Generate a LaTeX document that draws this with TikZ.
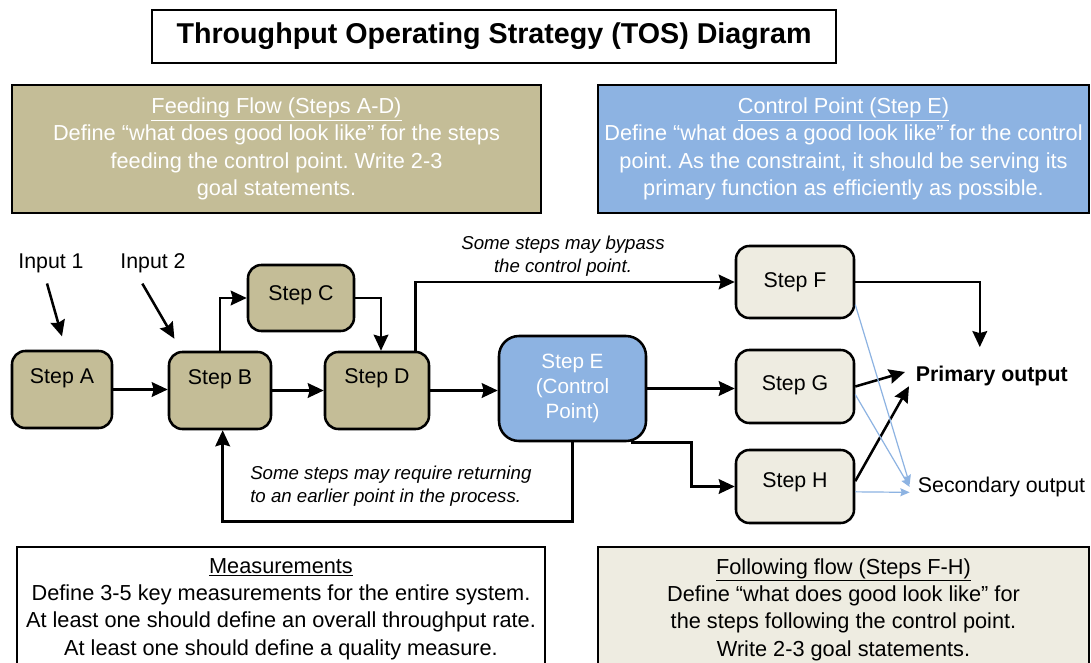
\documentclass[tikz,border=0pt]{standalone}
\usepackage{fontspec}
\setmainfont{Liberation Sans}
\usetikzlibrary{arrows.meta,calc}
\definecolor{tan}{HTML}{C4BD97}
\definecolor{cpblue}{HTML}{8DB3E2}
\definecolor{pale}{HTML}{EEECE1}
\definecolor{ltblue}{HTML}{8DB3E2}
\frenchspacing
\begin{document}
\begin{tikzpicture}[x=0.75pt,y=-0.75pt,
  stepbox/.style 2 args={draw, line width=1.9pt, rounded corners=10pt,
    minimum width=#1*0.75pt, minimum height=#2*0.75pt, inner sep=2pt,
    font=\fontsize{16}{19.2}\selectfont},
  tanstep/.style={fill=tan},
  palestep/.style={fill=pale},
  infobox/.style 2 args={draw, line width=1.5pt, align=center,
    minimum width=#1*0.75pt, minimum height=#2*0.75pt, inner sep=0pt,
    font=\fontsize{16.3}{20.5}\selectfont},
  infotext/.style={align=center, inner sep=0pt, font=\fontsize{16.3}{20.5}\selectfont},
  lbl/.style={inner sep=2pt, font=\fontsize{16}{19.2}\selectfont},
  itl/.style={inner sep=0pt, font=\fontsize{14}{17}\selectfont\itshape},
  arr/.style={line width=1.9pt, -{Stealth[length=12pt,width=11pt,inset=1.5pt]}},
  barr/.style={line width=0.9pt, draw=ltblue, -{Stealth[length=7pt,width=6pt,inset=1pt]}},
  line join=miter]
\clip (0,0) rectangle (1091,663);
\fill[white] (0,0) rectangle (1091,663);

% title
\node[draw, line width=1.5pt, minimum width=684*0.75pt, minimum height=53*0.75pt,
  font=\fontsize{21.5}{26}\selectfont\bfseries] (title) at (494,36.5)
  {Throughput Operating Strategy (TOS) Diagram};

% top info boxes
\node[infobox={529}{128}, fill=tan, text=white] (feed) at (276.5,149)
  {\underline{Feeding Flow (Steps A-D)}\\
   Define “what does good look like” for the steps\\
   feeding the control point. Write 2-3\\
   goal statements.};
\node[infobox={491}{128}, fill=cpblue, text=white] (ctrl) at (843.5,149)
  {\underline{Control Point (Step E)}\\
   Define “what does a good look like” for the control\\
   point. As the constraint, it should be serving its\\
   primary function as efficiently as possible.};

% bottom info boxes
\node[infobox={528}{140}, anchor=north] (meas) at (281,546) {};
\node[infotext, anchor=north] (meastxt) at ([yshift=-9pt]meas.north)
  {\underline{Measurements}\\
   Define 3-5 key measurements for the entire system.\\
   At least one should define an overall throughput rate.\\
   At least one should define a quality measure.};
\node[infobox={491}{140}, anchor=north, fill=pale] (foll) at (843.5,546) {};
\node[infotext, anchor=north] (folltxt) at ([yshift=-9pt]foll.north)
  {\underline{Following flow (Steps F-H)}\\
   Define “what does good look like” for\\
   the steps following the control point.\\
   Write 2-3 goal statements.};

% steps
\node[stepbox={100}{77}, tanstep, text height=12pt, text depth=21pt] (A) at (62,389.5) {Step A};
\node[stepbox={102}{77}, tanstep, text height=12pt, text depth=21pt] (B) at (220,390.5) {Step B};
\node[stepbox={106}{66}, tanstep, text height=12pt, text depth=8pt] (C) at (301,298) {Step C};
\node[stepbox={104}{77}, tanstep, text height=12pt, text depth=22pt] (D) at (377,390.5) {Step D};
\node[stepbox={147}{105}, fill=cpblue, text=white, rounded corners=15pt, align=center,
  font=\fontsize{15.5}{19}\selectfont] (E) at (572.5,388.5) {Step E\\(Control\\Point)};
\node[stepbox={118}{72}, palestep, text height=12pt, text depth=4pt] (F) at (795,282) {Step F};
\node[stepbox={118}{73}, palestep, text height=12pt, text depth=6pt] (G) at (795,386.5) {Step G};
\node[stepbox={118}{73}, palestep, text height=12pt, text depth=10pt] (H) at (795,486.5) {Step H};

% labels
\node[lbl] (in1) at (51,263) {Input 1};
\node[lbl] (in2) at (153,263) {Input 2};
\node[itl, align=center] (bypass) at (563,256.5) {Some steps may bypass\\the control point.};
\node[itl, align=left, anchor=west] (ret) at (250,486.5) {Some steps may require returning\\to an earlier point in the process.};
\node[lbl, anchor=west, font=\fontsize{16}{19.2}\selectfont\bfseries] (prim) at (913,376) {Primary output};
\node[lbl, anchor=west] (sec) at (915,487) {Secondary output};

% connectors
\draw[arr] ([xshift=-3pt,yshift=-6pt]in1.south) -- ([yshift=10pt]A.north);
\draw[arr] ([xshift=-8pt,yshift=-6pt]in2.south) -- ([xshift=5pt,yshift=9pt]B.north west);
\draw[arr] (A.east) -- (A.east -| B.west);
\draw[arr] (B.east) -- (B.east -| D.west);
\draw[arr] (B.north) |- (C.west);
\draw[arr] (C.east) -| ([xshift=3pt]D.north);
\draw[arr] ([xshift=-11pt]D.north east) |- (F.west);
\draw[arr] (D.east) -- (D.east -| E.west);
\draw[arr] (E.east) -- (E.east -| G.west);
\draw[arr] ([xshift=-12pt]E.south east) -- ([xshift=33pt]E.south east) |- (H.west);
\draw[arr] (E.south) -- ++(0,79) -| ([xshift=2pt]B.south);
\draw[arr] (F.east) -| ([xshift=-9pt,yshift=12pt]prim.north);
\draw[arr] (G.east) -- ([xshift=-6pt,yshift=3pt]prim.west);
\draw[arr] ([yshift=4pt]H.east) -- ([xshift=-3pt,yshift=2pt]prim.south west);

\draw[barr] ([yshift=-17pt]F.east) -- ([xshift=-4pt,yshift=2pt]sec.west);
\draw[barr] ([yshift=-6pt]G.east) -- ([xshift=-4pt]sec.west);
\draw[barr] ([yshift=-4pt]H.east) -- ([xshift=-4pt,yshift=-4pt]sec.west);
\end{tikzpicture}
\end{document}
